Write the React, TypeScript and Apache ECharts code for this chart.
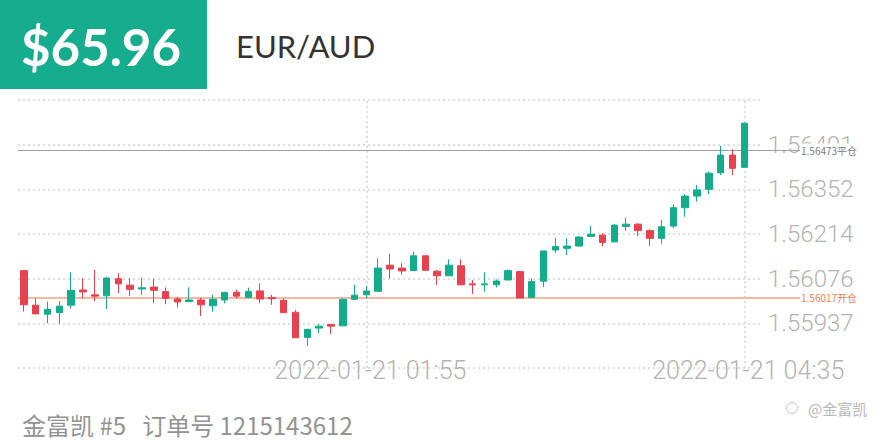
import React, { useEffect, useRef } from 'react';
import * as echarts from 'echarts';

// ---- data ----
const startTime = Date.UTC(2022, 0, 20, 23, 30); // first 5-minute candle
const stepMinutes = 5;

const openValues = [
  1.56101, 1.55994, 1.55966, 1.55971, 1.55994, 1.56041, 1.56026, 1.56023, 1.56076, 1.56056,
  1.56044, 1.5605, 1.56036, 1.56013, 1.56005, 1.5601, 1.55992, 1.5601, 1.56034, 1.56018,
  1.56038, 1.56018, 1.56009, 1.55972, 1.55894, 1.55923, 1.55934, 1.5593, 1.56012, 1.56026,
  1.56037, 1.56118, 1.56109, 1.56101, 1.56147, 1.56099, 1.56085, 1.56116, 1.5606, 1.56057,
  1.56057, 1.56072, 1.56098, 1.56018, 1.56068, 1.56165, 1.5617, 1.56177, 1.56207, 1.56211,
  1.5619, 1.56238, 1.56245, 1.56225, 1.56201, 1.56239, 1.56296, 1.56332, 1.56353, 1.56404,
  1.56459, 1.56421,
];
const closeValues = [
  1.55995, 1.55967, 1.55981, 1.55991, 1.5604, 1.56035, 1.56022, 1.56078, 1.5606, 1.56043,
  1.56048, 1.5604, 1.56015, 1.56004, 1.5601, 1.55995, 1.56012, 1.56033, 1.56022, 1.56036,
  1.56013, 1.56014, 1.55971, 1.55893, 1.55919, 1.55929, 1.55929, 1.56012, 1.56025, 1.56038,
  1.56109, 1.56106, 1.561, 1.56147, 1.56102, 1.56085, 1.56118, 1.56057, 1.56057, 1.5606,
  1.56069, 1.56101, 1.56016, 1.56067, 1.56162, 1.56176, 1.56177, 1.56205, 1.56214, 1.56188,
  1.56242, 1.56245, 1.56225, 1.56201, 1.56237, 1.56296, 1.56332, 1.56351, 1.56403, 1.56459,
  1.56418, 1.56558,
];
const lowValues = [
  1.55974, 1.55967, 1.55938, 1.55936, 1.55984, 1.56015, 1.56007, 1.55982, 1.56031, 1.56022,
  1.56026, 1.56, 1.55997, 1.55987, 1.56005, 1.5596, 1.55974, 1.56, 1.56015, 1.56015,
  1.56, 1.55995, 1.55971, 1.55893, 1.55868, 1.55907, 1.55905, 1.5593, 1.56012, 1.56015,
  1.56037, 1.56077, 1.56088, 1.56101, 1.56102, 1.56057, 1.56085, 1.56057, 1.56029, 1.56036,
  1.56049, 1.56072, 1.56016, 1.56018, 1.5605, 1.56155, 1.56149, 1.56177, 1.56206, 1.56177,
  1.5619, 1.56225, 1.56208, 1.56177, 1.56184, 1.56232, 1.56268, 1.56315, 1.56338, 1.56397,
  1.56397, 1.56421,
];
const highValues = [
  1.56101, 1.56015, 1.56005, 1.56007, 1.56096, 1.56077, 1.56103, 1.56082, 1.56093, 1.56077,
  1.5608, 1.56075, 1.56049, 1.5602, 1.56049, 1.56017, 1.56026, 1.56036, 1.56043, 1.56048,
  1.56062, 1.56026, 1.56015, 1.55979, 1.55921, 1.55935, 1.55935, 1.56015, 1.56057, 1.56053,
  1.56139, 1.56153, 1.56124, 1.5616, 1.56147, 1.56103, 1.56136, 1.56136, 1.56072, 1.56096,
  1.56074, 1.56105, 1.56098, 1.56077, 1.56162, 1.56202, 1.56201, 1.56208, 1.56239, 1.56217,
  1.56245, 1.56265, 1.56248, 1.56229, 1.56258, 1.56307, 1.56338, 1.56366, 1.56408, 1.56487,
  1.56477, 1.56558,
];

const labeledTimes = ['2022-01-21 01:55', '2022-01-21 04:35'];

const yMin = 1.557993;
const yMax = 1.566297;
const yInterval = 0.001384;

const openPosition = 1.56017; // 开仓
const closePosition = 1.56473; // 平仓

const priceText = '$65.96';
const symbolText = 'EUR/AUD';
const footerText = '金富凯 #5   订单号 1215143612';
const watermarkText = '@金富凯';

// ---- helpers ----
const pad = (n: number) => String(n).padStart(2, '0');
const fmtTime = (ts: number) => {
  const d = new Date(ts);
  return `${d.getUTCFullYear()}-${pad(d.getUTCMonth() + 1)}-${pad(d.getUTCDate())} ${pad(
    d.getUTCHours()
  )}:${pad(d.getUTCMinutes())}`;
};
const categories = openValues.map((_, i) => fmtTime(startTime + i * stepMinutes * 60000));
const candles = openValues.map((o, i) => [o, closeValues[i], lowValues[i], highValues[i]]);

const UP = '#13ad8c';
const DOWN = '#e8414f';
const GRID_COLOR = '#dedede';
const AXIS_TEXT = '#b3b3b3';

export default function App() {
  const ref = useRef<HTMLDivElement>(null);

  useEffect(() => {
    if (!ref.current) return;
    const chart = echarts.init(ref.current, undefined, { renderer: 'svg' });
    const dotted = { type: [2, 3] as any, width: 2, color: GRID_COLOR };
    chart.setOption({
      animation: false,
      backgroundColor: '#ffffff',
      grid: { left: 18, right: 118, top: 100, bottom: 72, containLabel: false },
      xAxis: {
        type: 'category',
        data: categories,
        boundaryGap: true,
        max: categories.length,
        axisLine: { show: false },
        axisTick: { show: false },
        splitLine: { show: false },
        axisLabel: {
          interval: (_i: number, v: string) => labeledTimes.includes(v),
          verticalAlign: 'middle',
          margin: 2,
          padding: [0, 0, 0, 8],
          fontSize: 25,
          fontFamily: 'Roboto',
          fontWeight: 300,
          color: AXIS_TEXT,
        },
      },
      yAxis: {
        type: 'value',
        position: 'right',
        min: yMin,
        max: yMax,
        interval: yInterval,
        axisLine: { show: false },
        axisTick: { show: false },
        splitLine: { show: true, lineStyle: dotted },
        axisLabel: {
          margin: 6,
          padding: [0, 0, 5, 0],
          fontSize: 24,
          fontFamily: 'Roboto',
          fontWeight: 300,
          color: AXIS_TEXT,
          showMinLabel: false,
          showMaxLabel: false,
          formatter: (v: number) => (Math.floor(v * 1e5 + 1e-6) / 1e5).toFixed(5),
        },
      },
      series: [
        {
          type: 'candlestick',
          data: candles,
          barWidth: 7,
          itemStyle: {
            color: UP,
            color0: DOWN,
            borderColor: UP,
            borderColor0: DOWN,
            borderWidth: 1,
          },
          markLine: {
            silent: true,
            animation: false,
            z: 1,
            symbol: ['none', 'none'],
            data: [
              { xAxis: labeledTimes[0], lineStyle: dotted, label: { show: false } },
              { xAxis: labeledTimes[1], lineStyle: dotted, label: { show: false } },
              [
                {
                  x: 18,
                  yAxis: closePosition,
                  lineStyle: { type: 'solid', color: '#a0a0a0', width: 1.2 },
                  label: {
                    show: true,
                    position: 'end',
                    distance: 0,
                    formatter: `${closePosition.toFixed(5)}平仓`,
                    fontSize: 10,
                    fontFamily: 'Noto Sans CJK SC',
                    color: '#7c7c7c',
                    backgroundColor: '#ffffff',
                    padding: [2, 1, 2, 1],
                  },
                },
                { x: 800, yAxis: closePosition },
              ],
              [
                {
                  x: 18,
                  yAxis: openPosition,
                  lineStyle: { type: 'solid', color: '#f3a27f', width: 1.5 },
                  label: {
                    show: true,
                    position: 'end',
                    distance: 0,
                    formatter: `${openPosition.toFixed(5)}开仓`,
                    fontSize: 10,
                    fontFamily: 'Noto Sans CJK SC',
                    color: '#ef7d4d',
                    backgroundColor: '#ffffff',
                    padding: [2, 1, 2, 1],
                  },
                },
                { x: 800, yAxis: openPosition },
              ],
            ],
          },
        },
      ],
      graphic: [
        {
          type: 'rect',
          shape: { x: 0, y: 0, width: 207, height: 89 },
          style: { fill: '#16ad8e' },
        },
        {
          type: 'text',
          x: 21,
          y: 46,
          style: {
            text: priceText,
            fill: '#ffffff',
            fontSize: 51,
            fontWeight: 'bold',
            fontFamily: 'Lato',
            verticalAlign: 'middle',
            align: 'left',
          },
        },
        {
          type: 'text',
          x: 236,
          y: 46,
          style: {
            text: symbolText,
            fill: '#333333',
            fontSize: 31,
            fontFamily: 'Lato',
            verticalAlign: 'middle',
            align: 'left',
          },
        },
        {
          type: 'text',
          x: 22,
          y: 424,
          style: {
            text: footerText,
            fill: '#939393',
            fontSize: 24,
            fontFamily: 'Noto Sans CJK SC',
            verticalAlign: 'middle',
            align: 'left',
          },
        },
        {
          type: 'circle',
          shape: { cx: 792, cy: 408, r: 5.5 },
          style: { fill: 'none', stroke: '#c4c4c4', lineWidth: 1 },
        },
        {
          type: 'text',
          x: 808,
          y: 408,
          style: {
            text: watermarkText,
            fill: '#b8b8b8',
            fontSize: 15,
            fontFamily: 'Noto Sans CJK SC',
            verticalAlign: 'middle',
            align: 'left',
          },
        },
      ],
    });
    return () => chart.dispose();
  }, []);

  return (
    <div
      ref={ref}
      style={{ position: 'absolute', left: 0, top: 0, width: 880, height: 440, background: '#fff' }}
    />
  );
}
